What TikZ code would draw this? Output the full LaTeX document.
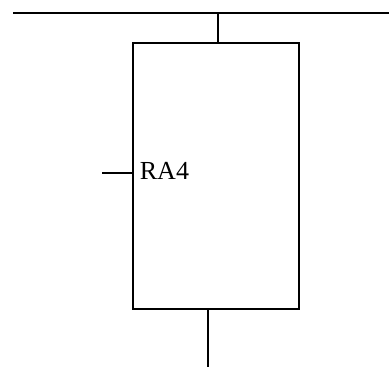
\documentclass[tikz,border=0pt]{standalone}
\usepackage{fontspec}
\setmainfont{Liberation Serif}
\begin{document}
\begin{tikzpicture}[x=1pt,y=1pt,line width=1.8pt,
  blockbox/.style={draw,minimum width=166pt,minimum height=266pt,inner sep=0pt},
  lbl/.style={font=\fontsize{26}{28}\selectfont,inner sep=0pt,anchor=base west}]
\useasboundingbox (0,0) rectangle (389,367);
\node[blockbox] (box) at (216,191) {};
\coordinate (busL) at (13,354);
\coordinate (busR) at (389,354);
\coordinate (busT) at (218,354);
\coordinate (boxT) at (218,324);
\coordinate (boxB) at (208,58);
\coordinate (outB) at (208,0);
\coordinate (stubL) at (102,194);
\coordinate (stubR) at (133,194);
\draw (busL) -- (busR);
\draw (busT) -- (boxT);
\draw (boxB) -- (outB);
\draw (stubL) -- (stubR);
\node[lbl] (ra) at (139,187) {RA4};
\end{tikzpicture}
\end{document}
